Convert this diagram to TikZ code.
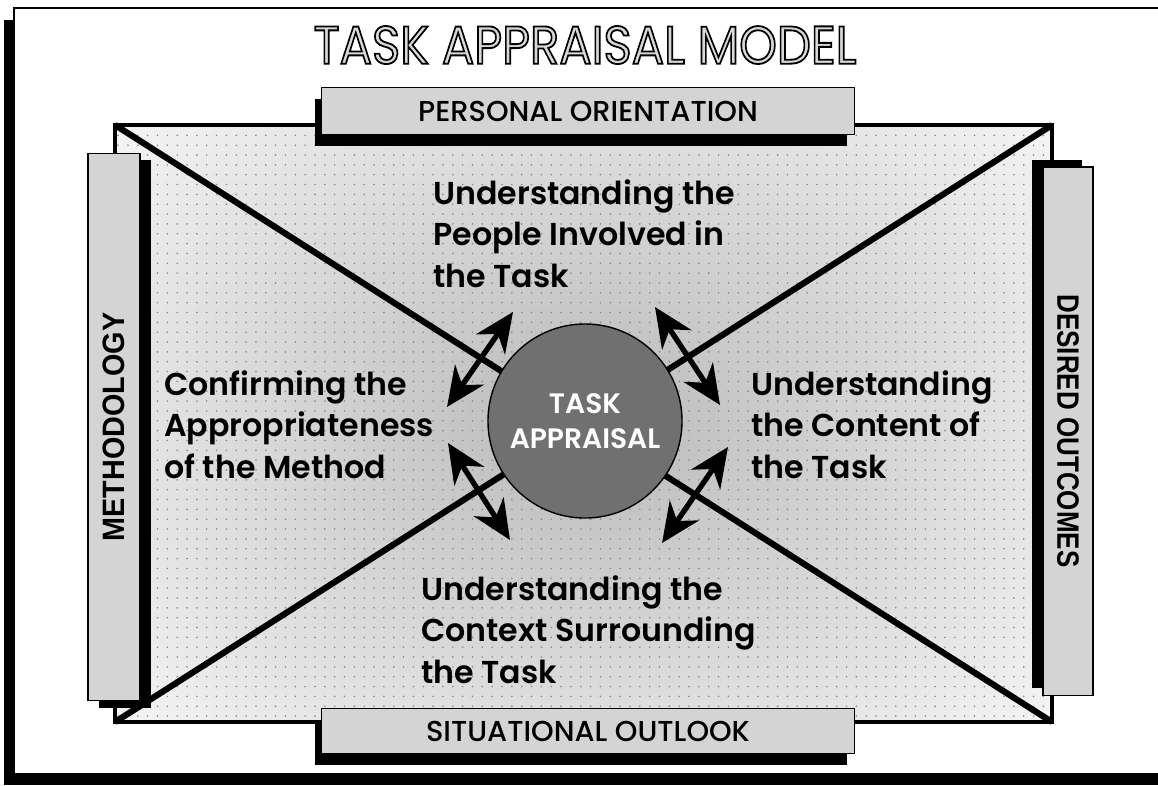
\documentclass[tikz,border=0pt]{standalone}
\usepackage{fontspec}
\setmainfont{Poppins SemiBold}
\newfontfamily\boxfont{Poppins Medium}
\newfontfamily\titlefont{Poppins}
\newfontfamily\barfont{Liberation Sans}
\usepackage{graphicx}
\usetikzlibrary{positioning}
\usetikzlibrary{arrows.meta,shadows,patterns.meta,calc}
\usepackage{xcolor}

\definecolor{boxgray}{gray}{0.83}
\definecolor{hubgray}{gray}{0.44}
\definecolor{dotgray}{gray}{0.55}

\newcommand{\squeeze}[2]{\scalebox{#1}[1]{#2}}
% hollow letters: fill in the current colour, black stroke round them
\newcommand{\outlined}[1]{\special{pdf:literal direct 2 Tr 1.3 w 0 G}#1\special{pdf:literal direct 0 Tr}}

\begin{document}
\begin{tikzpicture}[x=0.025cm, y=-0.025cm,
  band/.style={draw=black, line width=0.8pt, fill=boxgray, inner sep=0pt,
    font=\boxfont\fontsize{20.5}{24}\selectfont},
  sidebar/.style={band, font=\barfont\bfseries\fontsize{22}{24}\selectfont},
  dropdown/.style={general shadow={fill=black, shadow xshift=-5pt, shadow yshift=-8pt}},
  dropright/.style={general shadow={fill=black, shadow xshift=8pt, shadow yshift=-5pt}},
  dropup/.style={general shadow={fill=black, shadow xshift=-8pt, shadow yshift=5pt}},
  blurb/.style={align=left, anchor=north west, inner sep=0pt,
    font=\fontsize{22.5}{29.5}\selectfont},
  link/.style={{Stealth[length=28pt,width=25pt,inset=9pt]}-{Stealth[length=28pt,width=25pt,inset=9pt]},
    line width=3.8pt},
  title/.style={font=\titlefont\fontsize{38}{40}\selectfont, inner sep=0pt}
]
\useasboundingbox (0,0) rectangle (1158,785);

% page frame with its shadow
\fill[black] (4,20) rectangle (1160,785);
\draw[line width=1.2pt, fill=white] (14,8) rectangle (1172,774);

% corners of the model
\coordinate (nw) at (115,125);
\coordinate (ne) at (1052,125);
\coordinate (sw) at (115,722);
\coordinate (se) at (1052,722);

% stippled ground, darker round the middle
\begin{scope}
\clip (nw) rectangle (se);
\shade[inner color=gray!55, outer color=white] (584,423) ellipse (720 and 540);
\fill[pattern={Dots[distance=7pt,radius=0.65pt]}, pattern color=dotgray] (nw) rectangle (se);
\end{scope}

\draw[line width=2.8pt] (nw) rectangle (se);
\draw[line width=4.4pt] (nw) -- (se);
\draw[line width=4.4pt] (ne) -- (sw);

% heading
\node[title, text=gray!30] (head) at (585,45) {\outlined{\squeeze{0.9}{TASK APPRAISAL MODEL}}};

% the four sides
\node[band, dropdown, minimum width=13.3cm, minimum height=1.175cm] (orient) at (588,111)
  {PERSONAL ORIENTATION};
\node[band, dropdown, minimum width=13.3cm, minimum height=1.125cm] (outlook) at (588,731)
  {SITUATIONAL OUTLOOK};
\node[sidebar, dropright, rotate=90, minimum width=13.675cm, minimum height=1.3cm] (method) at (114,427)
  {\squeeze{0.93}{METHODOLOGY}};
\node[sidebar, dropup, rotate=-90, minimum width=13.2cm, minimum height=1.25cm] (outcome) at (1068,431)
  {\squeeze{0.84}{DESIRED OUTCOMES}};

% centre
\node[circle, draw=black, line width=1pt, fill=hubgray, minimum size=4.85cm, text=white,
  align=center, font=\fontsize{20}{25}\selectfont] (hub) at (585,421) {TASK\\APPRAISAL};

% arrows across the diagonals
\coordinate (ul1) at (447,407); \coordinate (ul2) at (513,312);
\coordinate (ur1) at (655,307); \coordinate (ur2) at (720,405);
\coordinate (ll1) at (448,443); \coordinate (ll2) at (510,540);
\coordinate (lr1) at (728,447); \coordinate (lr2) at (662,543);
\draw[link] (ul1) -- (ul2);
\draw[link] (ur1) -- (ur2);
\draw[link] (ll1) -- (ll2);
\draw[link] (lr1) -- (lr2);

% texts in the four fields
\node[blurb] (people) at (433,179) {Understanding the\\People Involved in\\the Task};
\node[blurb] (method text) at (164,370) {Confirming the\\Appropriateness\\of the Method};
\node[blurb] (content) at (751,370) {Understanding\\the Content of\\the Task};
\node[blurb] (context) at (421,575) {Understanding the\\Context Surrounding\\the Task};

\end{tikzpicture}
\end{document}
